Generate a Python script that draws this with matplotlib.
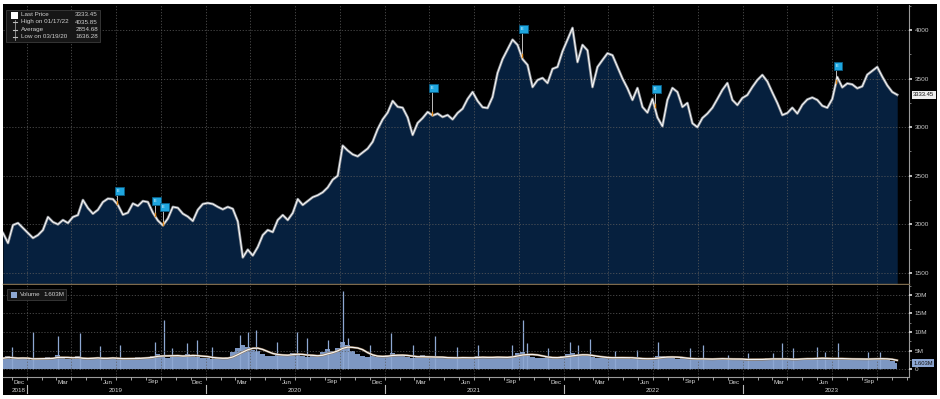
import numpy as np
import pandas as pd
import matplotlib
matplotlib.use("Agg")
import matplotlib.pyplot as plt
import matplotlib.dates as mdates
import matplotlib.transforms as mtransforms
from matplotlib.patches import Rectangle
from matplotlib.lines import Line2D
from matplotlib.ticker import MultipleLocator

plt.rcParams['font.family'] = ['Liberation Sans', 'DejaVu Sans']

# ---------------- data ----------------
start_date = "2018-11-13"
end_date = "2023-11-12"

price = [
    1911, 1808, 1993, 2014, 1963, 1911, 1860, 1890, 1942, 2076,
    2024, 2000, 2045, 2014, 2076, 2096, 2251, 2168, 2110, 2150,
    2230, 2265, 2260, 2200, 2100, 2120, 2215, 2190, 2240, 2230,
    2120, 2040, 1990, 2060, 2180, 2170, 2110, 2080, 2035, 2150,
    2210, 2220, 2210, 2180, 2155, 2180, 2160, 2030, 1660, 1740,
    1680, 1767, 1890, 1942, 1921, 2045, 2096, 2045, 2117, 2260,
    2200, 2240, 2280, 2300, 2330, 2380, 2460, 2500, 2810, 2760,
    2720, 2700, 2740, 2780, 2850, 2980, 3080, 3150, 3270, 3210,
    3200, 3100, 2920, 3043, 3094, 3156, 3120, 3140, 3105, 3125,
    3080, 3146, 3190, 3290, 3362, 3270, 3205, 3197, 3311, 3558,
    3700, 3800, 3900, 3846, 3700, 3640, 3413, 3485, 3506, 3454,
    3600, 3620, 3780, 3900, 4021, 3670, 3846, 3790, 3413, 3619,
    3691, 3760, 3740, 3620, 3500, 3400, 3280, 3403, 3208, 3150,
    3290, 3100, 3010, 3280, 3403, 3362, 3208, 3249, 3040, 3000,
    3094, 3140, 3200, 3290, 3383, 3454, 3280, 3228, 3300, 3331,
    3413, 3485, 3537, 3470, 3357, 3249, 3125, 3146, 3200, 3140,
    3230, 3285, 3305, 3280, 3220, 3200, 3290, 3516, 3410, 3450,
    3440, 3400, 3420, 3540, 3580, 3619, 3520, 3430, 3362, 3333,
]

volume_base = [  # millions
    2.9, 3.4, 2.8, 2.6, 3.1, 2.7, 2.5, 2.9, 2.8, 3.2,
    3.0, 3.8, 2.9, 2.7, 2.8, 3.4, 2.7, 2.6, 3.0, 3.3,
    2.8, 2.7, 3.1, 2.6, 2.8, 2.9, 2.7, 3.2, 3.0, 3.3,
    3.6, 4.0, 3.7, 3.1, 3.5, 3.8, 3.4, 4.0, 3.6, 3.2,
    3.1, 2.9, 2.7, 3.0, 2.8, 3.2, 4.6, 5.8, 6.4, 6.0,
    5.2, 4.8, 4.0, 3.6, 3.4, 3.8, 4.1, 3.7, 4.4, 4.0,
    3.5, 3.2, 3.4, 3.8, 4.7, 5.4, 4.8, 5.8, 7.2, 6.4,
    5.0, 4.0, 3.5, 3.2, 3.4, 3.3, 3.6, 3.8, 4.2, 3.7,
    3.4, 3.2, 3.0, 3.3, 3.7, 3.2, 3.0, 2.9, 3.2, 3.1,
    3.0, 2.9, 3.2, 3.1, 3.0, 3.4, 3.2, 3.0, 3.1, 3.3,
    3.2, 3.1, 3.6, 4.4, 4.6, 3.8, 3.2, 3.0, 3.1, 3.2,
    3.0, 3.1, 3.5, 4.0, 4.2, 3.8, 3.7, 3.4, 3.2, 3.1,
    3.0, 2.9, 3.1, 3.3, 3.1, 2.9, 2.8, 2.6, 2.7, 2.9,
    3.0, 3.4, 3.6, 3.2, 3.0, 2.8, 2.9, 2.7, 2.6, 2.7,
    2.8, 2.7, 2.6, 2.8, 3.0, 2.6, 2.5, 2.6, 2.7, 2.5,
    2.6, 2.5, 2.7, 3.0, 2.8, 2.6, 2.5, 2.7, 2.6, 2.8,
    3.0, 2.8, 2.7, 2.9, 3.1, 2.8, 2.6, 2.7, 2.9, 2.8,
    2.6, 2.5, 2.7, 2.8, 3.0, 2.8, 2.6, 2.5, 2.2, 1.6,
]

spike_dates = [
    "2018-12-01", "2019-01-13", "2019-03-05", "2019-04-19", "2019-05-30",
    "2019-07-10", "2019-09-19", "2019-10-08", "2019-10-24", "2019-11-23",
    "2019-12-14", "2020-01-13", "2020-03-11", "2020-03-27", "2020-04-12",
    "2020-05-25", "2020-07-05", "2020-07-25", "2020-09-06", "2020-10-07",
    "2020-10-17", "2020-12-01", "2021-01-13", "2021-02-27", "2021-04-13",
    "2021-05-27", "2021-07-09", "2021-09-17", "2021-10-09", "2021-10-17",
    "2021-11-29", "2022-01-13", "2022-01-29", "2022-02-23", "2022-04-15",
    "2022-05-30", "2022-07-12", "2022-09-15", "2022-10-11", "2022-12-01",
    "2023-01-11", "2023-03-03", "2023-03-22", "2023-04-13", "2023-06-01",
    "2023-06-17", "2023-07-14", "2023-09-13", "2023-10-08",
]
spike_volumes = [
    5.9, 10.0, 8.9, 9.7, 6.2,
    6.5, 7.3, 13.2, 5.7, 7.0,
    7.8, 5.9, 9.2, 10.0, 10.5,
    7.3, 10.0, 8.4, 7.8, 21.0,
    8.4, 6.5, 9.7, 6.5, 8.9,
    5.9, 6.5, 6.5, 13.2, 7.0,
    5.7, 7.3, 6.5, 8.1, 4.9,
    5.1, 7.3, 5.7, 6.5, 3.8,
    4.3, 4.3, 7.0, 5.7, 5.9,
    4.6, 7.0, 4.6, 4.6,
]

flag_dates = ["2019-07-04", "2019-09-19", "2019-10-05", "2021-04-06",
              "2021-10-07", "2022-07-05", "2023-07-10"]
flag_tops = [2385, 2282, 2220, 3444, 4051, 3434, 3671]

price_ticks = [1500, 2000, 2500, 3000, 3500, 4000]
volume_ticks = [0, 5, 10, 15, 20]
volume_tick_labels = ["0", "5M", "10M", "15M", "20M"]
month_names = {12: "Dec", 3: "Mar", 6: "Jun", 9: "Sep"}
year_list = [2019, 2020, 2021, 2022, 2023]

legend_labels = ["Last Price", "High on 01/17/22", "Average", "Low on 03/19/20"]
legend_values = ["3333.45", "4035.85", "2854.68", "1636.28"]
last_price = 3333.45
last_volume = 1.603
last_volume_label = "1.603M"

# ---------------- layout ----------------
W, H = 940, 399
fig = plt.figure(figsize=(W / 100, H / 100), dpi=100, facecolor='white')


def fx(px):
    return px / W


def fy(py):
    return 1 - py / H


fig.add_artist(Rectangle((fx(3), fy(395)), (937 - 3) / W, (395 - 4) / H,
                         transform=fig.transFigure, facecolor='black',
                         edgecolor='none', zorder=-10))

ax_p = fig.add_axes([fx(3), fy(284), (909 - 3) / W, (284 - 5) / H], facecolor='black')
ax_v = fig.add_axes([fx(3), fy(377), (909 - 3) / W, (377 - 285) / H], facecolor='black')

dates = pd.date_range(start_date, end_date, periods=len(price))
xlim = (pd.Timestamp("2018-11-13"), pd.Timestamp("2023-12-06"))
p_lo, p_hi = 1387, 4257

grid_kw = dict(color='#5c5c5c', linestyle=(0, (1.5, 2.0)), linewidth=0.6, alpha=0.85)

# ---- price panel ----
ax_p.fill_between(dates, price, p_lo, color='#06203e', lw=0, zorder=2)
ax_p.plot(dates, price, color='#8d9299', lw=1.9, zorder=3, solid_joinstyle='round')
ax_p.plot(dates, price, color='white', lw=0.7, zorder=4, solid_joinstyle='round')
ax_p.set_xlim(*xlim)
ax_p.set_ylim(p_lo, p_hi)
ax_p.set_axisbelow(False)
ax_p.xaxis.set_major_locator(mdates.MonthLocator(bymonth=[1, 4, 7, 10]))
ax_p.set_yticks(price_ticks)
ax_p.set_yticklabels([str(t) for t in price_ticks])
ax_p.yaxis.set_minor_locator(MultipleLocator(250))
ax_p.yaxis.tick_right()
ax_p.tick_params(axis='y', which='major', direction='out', length=2.5, width=1.2,
                 color='#e0e0e0', labelcolor='#c8c8c8', labelsize=4.6, pad=1.5)
ax_p.tick_params(axis='y', which='minor', direction='out', length=1.5, width=0.6, color='#888888')
ax_p.tick_params(axis='x', which='both', length=0, labelbottom=False)
ax_p.grid(True, which='major', **grid_kw)
for s in ['top', 'left']:
    ax_p.spines[s].set_visible(False)
ax_p.spines['right'].set_color('#9a9a9a')
ax_p.spines['right'].set_linewidth(0.8)
ax_p.spines['bottom'].set_color('#7d6a4c')
ax_p.spines['bottom'].set_linewidth(1.0)

# flags
fnum = mdates.date2num(pd.to_datetime(flag_dates))
dnum = mdates.date2num(dates)
for fd, top in zip(fnum, flag_tops):
    base_y = float(np.interp(fd, dnum, price))
    ax_p.plot([fd, fd], [base_y, top - 82], color='#dddddd', lw=0.6, zorder=5)
    ax_p.plot([fd, fd], [base_y, base_y + 30], color='#e08a1e', lw=1.0, zorder=6)
    ax_p.add_patch(Rectangle((fd - 5, top - 82), 18, 82, facecolor='#1ea6df',
                             edgecolor='#0b5f88', lw=0.6, zorder=7))
    ax_p.text(fd + 1, top - 41, "E", fontsize=2.8, color='white', ha='center',
              va='center', zorder=8)

# last price tag
tr_p = mtransforms.blended_transform_factory(ax_p.transAxes, ax_p.transData)
ax_p.text(1.0045, last_price, f"{last_price:.2f}", transform=tr_p, fontsize=4.2,
          color='#111111', ha='left', va='center', clip_on=False, zorder=10,
          bbox=dict(boxstyle='square,pad=0.25', fc='#eeeeee', ec='none'))

# ---- volume panel ----
v_lo, v_hi = -2.16, 22.7
ax_v.fill_between(dates, volume_base, 0, step='mid', color='#7d97c2', lw=0, zorder=2)
ax_v.vlines(pd.to_datetime(spike_dates), 0, spike_volumes, color='#8ea8d3', lw=0.9, zorder=2)
ma = pd.Series(volume_base).rolling(5, min_periods=1).mean()
ax_v.plot(dates, ma, color='#8c7050', lw=1.6, zorder=3)
ax_v.plot(dates, ma, color='#f4f4f4', lw=0.9, zorder=4)
ax_v.set_xlim(*xlim)
ax_v.set_ylim(v_lo, v_hi)
ax_v.set_axisbelow(False)
ax_v.xaxis.set_major_locator(mdates.MonthLocator(bymonth=[1, 4, 7, 10]))
ax_v.xaxis.set_minor_locator(mdates.MonthLocator())
ax_v.set_yticks(volume_ticks)
ax_v.set_yticklabels(volume_tick_labels)
ax_v.yaxis.set_minor_locator(MultipleLocator(2.5))
ax_v.yaxis.tick_right()
ax_v.tick_params(axis='y', which='major', direction='out', length=2.5, width=1.2,
                 color='#e0e0e0', labelcolor='#c8c8c8', labelsize=4.6, pad=1.5)
ax_v.tick_params(axis='y', which='minor', direction='out', length=1.5, width=0.6, color='#888888')
ax_v.tick_params(axis='x', which='both', direction='out', length=1.8, width=0.6,
                 color='#bbbbbb', labelbottom=False)
ax_v.grid(True, which='major', **grid_kw)
for s in ['top', 'left']:
    ax_v.spines[s].set_visible(False)
for s in ['right', 'bottom']:
    ax_v.spines[s].set_color('#9a9a9a')
    ax_v.spines[s].set_linewidth(0.8)

tr_v = mtransforms.blended_transform_factory(ax_v.transAxes, ax_v.transData)
ax_v.text(1.0045, last_volume, last_volume_label, transform=tr_v, fontsize=4.2,
          color='#111111', ha='left', va='center', clip_on=False, zorder=10,
          bbox=dict(boxstyle='square,pad=0.25', fc='#8ea8d3', ec='none'))

# ---- date axis labels ----
tr_d = mtransforms.blended_transform_factory(ax_v.transData, fig.transFigure)
for y in range(2018, 2024):
    for m, name in month_names.items():
        d = pd.Timestamp(y, m, 15)
        if pd.Timestamp("2018-12-01") <= d <= pd.Timestamp("2023-09-30"):
            ax_v.text(d, fy(382), name, transform=tr_d, fontsize=4.5, color='#d8d8d8',
                      ha='center', va='center', clip_on=False)
ax_v.text(pd.Timestamp(2018, 12, 15), fy(390), "2018", transform=tr_d, fontsize=4.5,
          color='#d8d8d8', ha='center', va='center', clip_on=False)
for y in year_list:
    ax_v.text(pd.Timestamp(y, 7, 1), fy(390), str(y), transform=tr_d, fontsize=4.5,
              color='#d8d8d8', ha='center', va='center', clip_on=False)
    d = mdates.date2num(pd.Timestamp(y, 1, 1))
    fig.add_artist(Line2D([d, d], [fy(385), fy(393)], transform=tr_d,
                          color='#bbbbbb', lw=0.8))

# ---- legends ----
fig.add_artist(Rectangle((fx(6), fy(42)), (100 - 6) / W, (42 - 10) / H,
                         transform=fig.transFigure, facecolor='#161616',
                         edgecolor='#3c3c3c', lw=0.6, zorder=4))
fig.add_artist(Rectangle((fx(11), fy(18.5)), 7 / W, 7 / H, transform=fig.transFigure,
                         facecolor='white', edgecolor='none', zorder=5))
fig.add_artist(Line2D([fx(14.5), fx(14.5)], [fy(20), fy(40)], transform=fig.transFigure,
                      color='#9a9a9a', lw=0.6, zorder=5))
for yy in (22, 29.5, 37):
    fig.add_artist(Line2D([fx(12.5), fx(16.5)], [fy(yy), fy(yy)], transform=fig.transFigure,
                          color='#bdbdbd', lw=0.8, zorder=5))
row_y = [14.5, 22, 29.5, 37]
for lab, val, yy in zip(legend_labels, legend_values, row_y):
    fig.text(fx(21), fy(yy), lab, fontsize=4.5, color='#d0d0d0', ha='left', va='center', zorder=6)
    fig.text(fx(98), fy(yy), val, fontsize=4.5, color='#d0d0d0', ha='right', va='center', zorder=6)

fig.add_artist(Rectangle((fx(7), fy(300)), (66 - 7) / W, (300 - 289) / H,
                         transform=fig.transFigure, facecolor='#161616',
                         edgecolor='#3c3c3c', lw=0.6, zorder=4))
fig.add_artist(Rectangle((fx(11), fy(298)), 6 / W, 6 / H, transform=fig.transFigure,
                         facecolor='#8ea8d3', edgecolor='none', zorder=5))
fig.text(fx(20), fy(294.5), "Volume", fontsize=4.5, color='#d0d0d0', ha='left', va='center', zorder=6)
fig.text(fx(64), fy(294.5), last_volume_label, fontsize=4.5, color='#d0d0d0', ha='right',
         va='center', zorder=6)

fig.savefig("out.png", dpi=100, facecolor='white')
